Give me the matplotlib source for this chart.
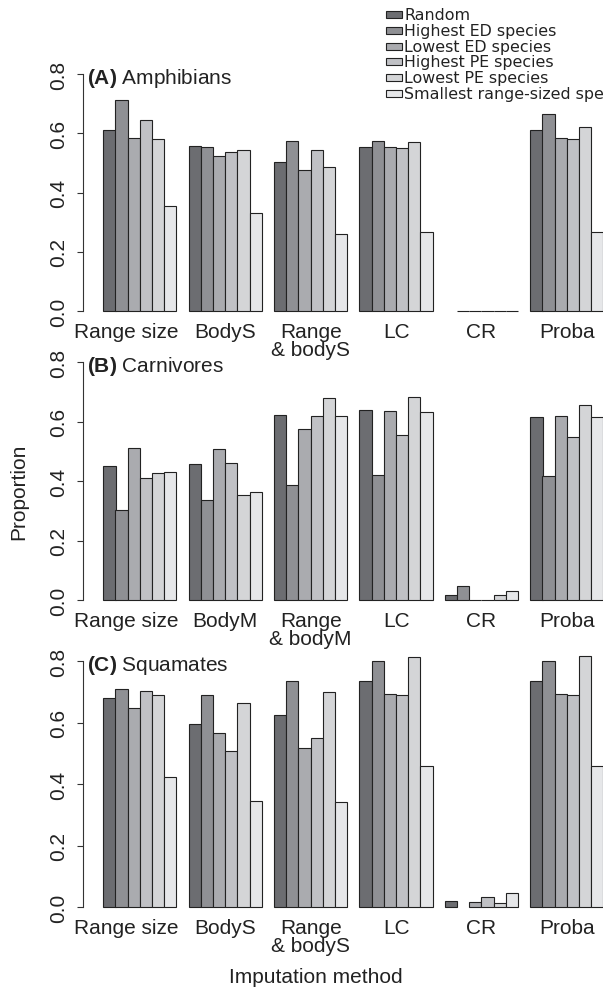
import numpy as np
import matplotlib
matplotlib.use("Agg")
import matplotlib.pyplot as plt
from matplotlib.patches import Rectangle
from matplotlib.transforms import ScaledTranslation

# === Daten ===
series = ["Random", "Highest ED species", "Lowest ED species",
          "Highest PE species", "Lowest PE species", "Smallest range-sized species"]
colors = ["#6c6d71", "#8f9094", "#aaabaf", "#c0c1c5", "#d4d5d7", "#e6e7e9"]

labels_a = ["Range size", "BodyS", "Range\n& bodyS", "LC", "CR", "Proba"]
labels_b = ["Range size", "BodyM", "Range\n& bodyM", "LC", "CR", "Proba"]
labels_c = ["Range size", "BodyS", "Range\n& bodyS", "LC", "CR", "Proba"]

# eine Zeile pro Methode, eine Spalte pro Serie
amphibians = [
    [0.611, 0.712, 0.585, 0.646, 0.579, 0.354],
    [0.556, 0.552, 0.524, 0.537, 0.543, 0.330],
    [0.502, 0.573, 0.476, 0.543, 0.485, 0.260],
    [0.554, 0.573, 0.555, 0.551, 0.571, 0.268],
    [np.nan, 0.0, 0.0, 0.0, 0.0, 0.0],
    [0.610, 0.664, 0.583, 0.581, 0.622, 0.268],
]
carnivores = [
    [0.449, 0.304, 0.512, 0.410, 0.426, 0.429],
    [0.457, 0.337, 0.509, 0.462, 0.352, 0.364],
    [0.621, 0.386, 0.575, 0.618, 0.680, 0.620],
    [0.639, 0.419, 0.634, 0.554, 0.681, 0.633],
    [0.018, 0.048, 0.0, 0.0, 0.017, 0.031],
    [0.616, 0.416, 0.617, 0.547, 0.654, 0.616],
]
squamates = [
    [0.681, 0.708, 0.647, 0.704, 0.689, 0.423],
    [0.596, 0.689, 0.566, 0.507, 0.665, 0.344],
    [0.624, 0.735, 0.517, 0.549, 0.699, 0.341],
    [0.736, 0.800, 0.693, 0.689, 0.813, 0.460],
    [0.019, np.nan, 0.016, 0.031, 0.014, 0.047],
    [0.736, 0.801, 0.693, 0.689, 0.815, 0.460],
]

panels = [
    ("(A)", "Amphibians", amphibians, labels_a, 75, 312),
    ("(B)", "Carnivores", carnivores, labels_b, 363, 601),
    ("(C)", "Squamates", squamates, labels_c, 662, 908),
]

plt.rcParams["font.family"] = ["Liberation Sans", "DejaVu Sans"]
plt.rcParams["mathtext.fontset"] = "custom"
plt.rcParams["mathtext.rm"] = "Liberation Sans"
plt.rcParams["mathtext.bf"] = "Liberation Sans:bold"

W, H = 603, 995
fig = plt.figure(figsize=(W / 100, H / 100), dpi=100)

bar_px = 12.2
x0_px = 91.1
ax_left_px = 82.7
ymin, ymax = -0.032, 0.832
fs = 15

for tag, name, data, xlabels, y08, y00 in panels:
    unit = (y00 - y08) / 0.8
    bottom_px = y00 + 0.032 * unit
    top_px = y08 - 0.032 * unit
    ax = fig.add_axes([ax_left_px / W, 1 - bottom_px / H,
                       (W - ax_left_px) / W, (bottom_px - top_px) / H])
    ax.set_facecolor("none")
    vals = np.array(data)
    for g in range(vals.shape[0]):
        for s in range(vals.shape[1]):
            left = 1 + 7 * g + s
            ax.bar(left, vals[g, s], width=1, align="edge", color=colors[s],
                   edgecolor="#222222", linewidth=0.8)
    ax.set_xlim((ax_left_px - x0_px) / bar_px, (W - x0_px) / bar_px)
    ax.set_ylim(ymin, ymax)
    for sp in ["top", "right", "bottom"]:
        ax.spines[sp].set_visible(False)
    ax.spines["left"].set_bounds(0, 0.8)
    ax.spines["left"].set_color("#333333")
    ax.spines["left"].set_linewidth(0.8)
    ax.set_yticks([0, 0.2, 0.4, 0.6, 0.8])
    ax.set_yticklabels(["0.0", "0.2", "0.4", "0.6", "0.8"], rotation=90,
                       va="center", fontsize=fs, color="#222222")
    ax.tick_params(axis="y", length=4.5, width=0.8, color="#333333", pad=6)
    ax.set_xticks([4 + 7 * g for g in range(6)])
    ax.set_xticklabels(xlabels, fontsize=fs, color="#222222", linespacing=0.95)
    ax.tick_params(axis="x", length=0, pad=1)
    # "Range size" steht im Original etwas nach links versetzt
    first = ax.get_xticklabels()[0]
    first.set_transform(first.get_transform() +
                        ScaledTranslation(-0.14, 0, fig.dpi_scale_trans))
    ax.text(-0.3, 0.77, r"$\bf{" + tag + r"}$ " + name,
            fontsize=fs, va="baseline", ha="left", color="#222222")

# Achsentitel
fig.text(18.5 / W, 1 - 492 / H, "Proportion", rotation=90, ha="center",
         va="center", fontsize=fs, color="#222222")
fig.text(316 / W, 1 - 978 / H, "Imputation method", ha="center",
         va="center", fontsize=fs, color="#222222")

# Legende oben rechts (abgeschnitten wie im Original)
for i, (lab, c) in enumerate(zip(series, colors)):
    yc = 15.7 + 15.7 * i
    fig.add_artist(Rectangle((385.7 / W, 1 - (yc + 3.5) / H), 16 / W, 7 / H,
                             facecolor=c, edgecolor="#222222", linewidth=0.8,
                             transform=fig.transFigure))
    fig.text(404.3 / W, 1 - yc / H, lab, family="DejaVu Sans", fontsize=11.4,
             va="center", ha="left", color="#222222")

fig.savefig("out.png", dpi=100)
